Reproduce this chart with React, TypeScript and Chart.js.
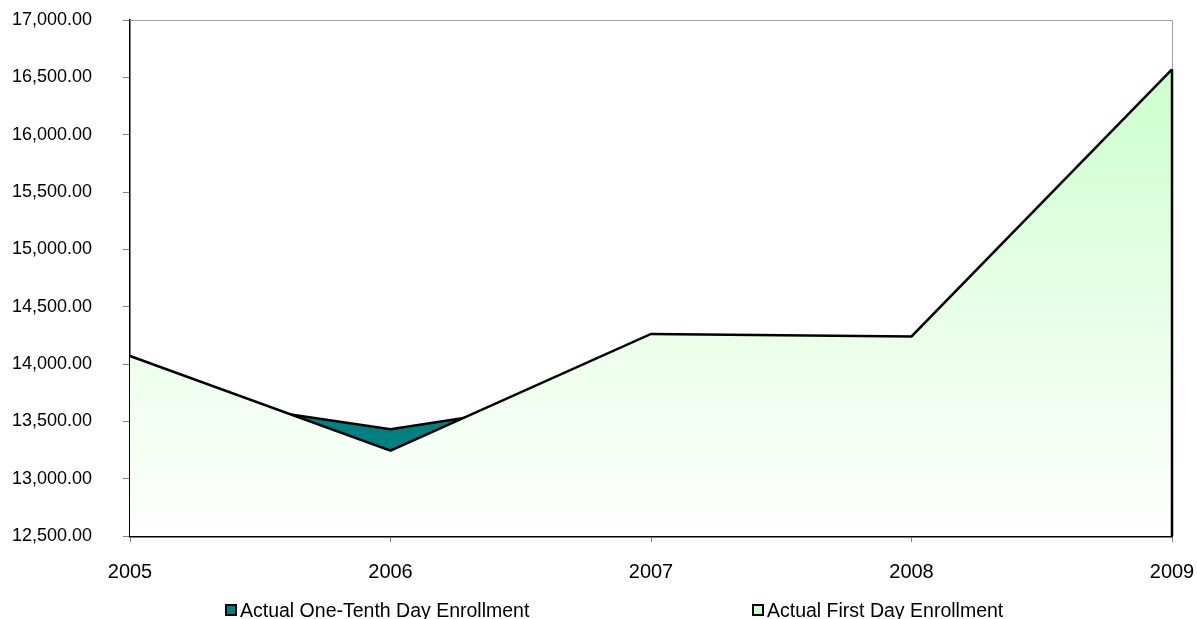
import React, { useEffect, useRef } from "react";
import { Chart, registerables } from "chart.js";

Chart.register(...registerables);

const years: string[] = ["2005", "2006", "2007", "2008", "2009"];
const firstDayEnrollment: number[] = [14070, 13244, 14262, 14240, 16570];
const oneTenthDayEnrollment: number[] = [13766, 13430, 13780, 13950, 16150];
const seriesNames: string[] = ["Actual One-Tenth Day Enrollment", "Actual First Day Enrollment"];
const yMin = 12500;
const yMax = 17000;
const yStep = 500;

const FONT = '"Liberation Sans", Arial, sans-serif';
const TEAL = "#008080";
const PALE_GREEN = "#ccffcc";

const frameAndEdges = {
  id: "frameAndEdges",
  beforeDatasetsDraw(chart: any) {
    const { ctx, chartArea } = chart;
    ctx.save();
    ctx.strokeStyle = "#a0a0a0";
    ctx.lineWidth = 1;
    ctx.beginPath();
    ctx.moveTo(chartArea.left, chartArea.top + 0.5);
    ctx.lineTo(chartArea.right + 0.5, chartArea.top + 0.5);
    ctx.lineTo(chartArea.right + 0.5, chartArea.bottom);
    ctx.stroke();
    ctx.restore();
  },
  afterDatasetsDraw(chart: any) {
    const { ctx, chartArea } = chart;
    const meta = chart.getDatasetMeta(0);
    const pts = meta.data;
    if (!pts || !pts.length) return;
    const last = pts[pts.length - 1];
    ctx.save();
    ctx.strokeStyle = "#000";
    ctx.lineWidth = 2.5;
    ctx.beginPath();
    ctx.moveTo(last.x, last.y);
    ctx.lineTo(last.x, chartArea.bottom);
    ctx.stroke();
    ctx.restore();
  },
};

export default function App() {
  const canvasRef = useRef<HTMLCanvasElement | null>(null);

  useEffect(() => {
    document.body.style.margin = "0";
    const canvas = canvasRef.current;
    if (!canvas) return;
    const chart = new Chart(canvas, {
      type: "line",
      data: {
        labels: years,
        datasets: [
          {
            label: seriesNames[1],
            data: firstDayEnrollment,
            borderColor: "#000",
            borderWidth: 2.5,
            pointRadius: 0,
            tension: 0,
            fill: "start",
            backgroundColor: (c: any) => {
              const area = c.chart.chartArea;
              if (!area) return PALE_GREEN;
              const g = c.chart.ctx.createLinearGradient(0, area.top, 0, area.bottom);
              g.addColorStop(0, "#c8ffc8");
              g.addColorStop(1, "#ffffff");
              return g;
            },
          },
          {
            label: seriesNames[0],
            data: oneTenthDayEnrollment,
            borderColor: "#000",
            borderWidth: 2.5,
            pointRadius: 0,
            tension: 0,
            fill: "start",
            backgroundColor: TEAL,
          },
        ],
      },
      options: {
        animation: false,
        responsive: false,
        maintainAspectRatio: false,
        layout: { padding: { left: 12, top: 20, right: 25, bottom: 35 } },
        plugins: {
          legend: { display: false },
          title: { display: false },
          tooltip: { enabled: false },
        },
        scales: {
          x: {
            type: "category",
            offset: false,
            grid: {
              display: true,
              drawOnChartArea: false,
              color: "#808080",
              tickLength: 6,
              offset: false,
            },
            border: { display: true, color: "#000", width: 2.5 },
            ticks: {
              color: "#000",
              font: { family: FONT, size: 20 },
              padding: 18,
              maxRotation: 0,
              autoSkip: false,
            },
            afterFit: (s: any) => {
              s.height = 48;
              s.paddingLeft = 0;
              s.paddingRight = 0;
            },
          },
          y: {
            min: yMin,
            max: yMax,
            grid: {
              display: true,
              drawOnChartArea: false,
              color: "#808080",
              tickLength: 7,
            },
            border: { display: true, color: "#000", width: 1.5 },
            ticks: {
              stepSize: yStep,
              color: "#000",
              font: { family: FONT, size: 18 },
              padding: 31,
              callback: (v: any) =>
                Number(v).toLocaleString("en-US", {
                  minimumFractionDigits: 2,
                  maximumFractionDigits: 2,
                }),
            },
            afterFit: (s: any) => {
              s.width = 118;
              s.paddingTop = 0;
              s.paddingBottom = 0;
            },
          },
        },
      },
      plugins: [frameAndEdges],
    });
    return () => chart.destroy();
  }, []);

  const legendItem = (left: number, fill: string, text: string) => (
    <div
      style={{
        position: "absolute",
        left,
        top: 600,
        height: 20,
        display: "flex",
        alignItems: "center",
        fontFamily: FONT,
        fontSize: 19.5,
        color: "#000",
        whiteSpace: "nowrap",
      }}
    >
      <span
        style={{
          display: "inline-block",
          width: 8,
          height: 8,
          border: "2px solid #000",
          background: fill,
          marginRight: 3,
        }}
      />
      <span>{text}</span>
    </div>
  );

  return (
    <div style={{ position: "absolute", left: 0, top: 0, width: 1197, height: 619, background: "#fff", overflow: "hidden" }}>
      <canvas ref={canvasRef} width={1197} height={619} style={{ position: "absolute", left: 0, top: 0, width: 1197, height: 619 }} />
      {legendItem(225, TEAL, seriesNames[0])}
      {legendItem(752, PALE_GREEN, seriesNames[1])}
    </div>
  );
}
